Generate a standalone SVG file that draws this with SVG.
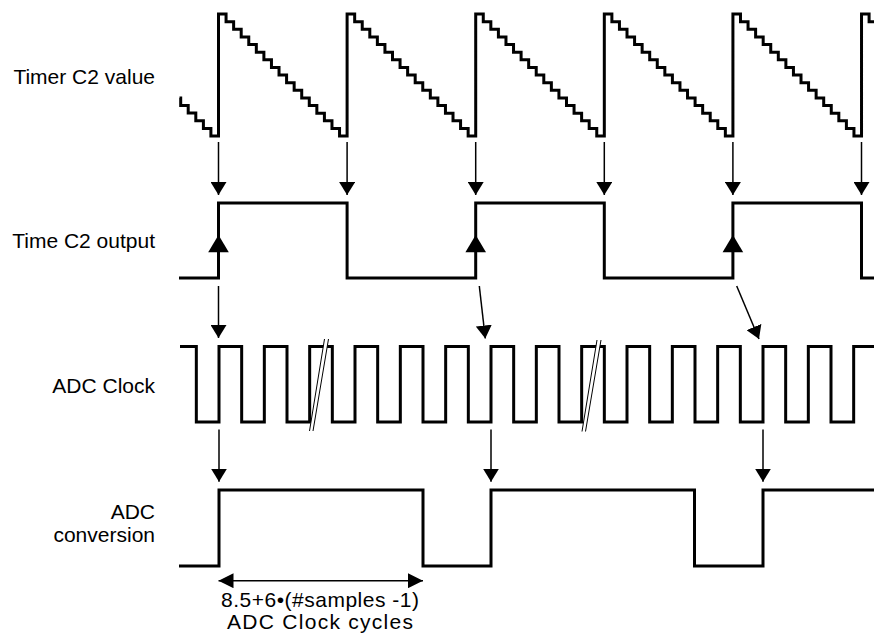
<svg xmlns="http://www.w3.org/2000/svg" width="874" height="634" viewBox="0 0 874 634">
  <style>
    .wave { fill: none; stroke: #000; stroke-width: 3; stroke-linejoin: miter; stroke-linecap: butt; }
    .arrow { fill: none; stroke: #000; stroke-width: 1.5; }
    .label { font-family: "Liberation Sans", Arial, sans-serif; font-size: 21px; fill: #000; }
    .tri { fill: #000; stroke: none; }
    .brk { fill: #fff; stroke: none; }
    .brkline { stroke: #000; stroke-width: 1; fill: none; }
  </style>
  <defs>
    <marker id="ah" viewBox="0 0 13 16" refX="13" refY="8" markerWidth="13" markerHeight="16" markerUnits="userSpaceOnUse" orient="auto">
      <path d="M0,0 L13,8 L0,16 z" fill="#000"/>
    </marker>
    <marker id="dim" viewBox="0 0 15 15" refX="15" refY="7.5" markerWidth="15" markerHeight="15" markerUnits="userSpaceOnUse" orient="auto-start-reverse">
      <path d="M0,0 L15,7.5 L0,15 z" fill="#000"/>
    </marker>
  </defs>
  <rect width="874" height="634" fill="#fff"/>

  <g id="labels">
    <text class="label" x="155" y="84" text-anchor="end">Timer C2 value</text>
    <text class="label" x="155" y="248.3" text-anchor="end">Time C2 output</text>
    <text class="label" x="155" y="393.3" text-anchor="end">ADC Clock</text>
    <text class="label" x="155" y="519.3" text-anchor="end">ADC</text>
    <text class="label" x="155" y="541.7" text-anchor="end">conversion</text>
  </g>

  <g id="timer-value">
    <path class="wave" d="M179.5,97.9 H180.7 V105.5 H188.2 V113.1 H195.8 V120.75 H203.4 V128.4 H210.9 V136 H218.5 V14
      h7.565v7.625h7.565v7.625h7.565v7.625h7.565v7.625h7.565v7.625h7.565v7.625h7.565v7.625h7.565v7.625h7.565v7.625h7.565v7.625h7.565v7.625h7.565v7.625h7.565v7.625h7.565v7.625h7.565v7.625h7.565v7.625h7.565 V14
      h7.565v7.625h7.565v7.625h7.565v7.625h7.565v7.625h7.565v7.625h7.565v7.625h7.565v7.625h7.565v7.625h7.565v7.625h7.565v7.625h7.565v7.625h7.565v7.625h7.565v7.625h7.565v7.625h7.565v7.625h7.565v7.625h7.565 V14
      h7.565v7.625h7.565v7.625h7.565v7.625h7.565v7.625h7.565v7.625h7.565v7.625h7.565v7.625h7.565v7.625h7.565v7.625h7.565v7.625h7.565v7.625h7.565v7.625h7.565v7.625h7.565v7.625h7.565v7.625h7.565v7.625h7.565 V14
      h7.565v7.625h7.565v7.625h7.565v7.625h7.565v7.625h7.565v7.625h7.565v7.625h7.565v7.625h7.565v7.625h7.565v7.625h7.565v7.625h7.565v7.625h7.565v7.625h7.565v7.625h7.565v7.625h7.565v7.625h7.565v7.625h7.565 V14
      h7.565v7.625h7.565v7.625h7.565v7.625h7.565v7.625h7.565v7.625h7.565v7.625h7.565v7.625h7.565v7.625h7.565v7.625h7.565v7.625h7.565v7.625h7.565v7.625h7.565v7.625h7.565v7.625h7.565v7.625h7.565v7.625h7.565 V14
      h7.565v7.625h6"/>
  </g>

  <g id="timer-output">
    <path class="wave" d="M179,278 H218.5 V203 H347.1 V278 H475.7 V203 H604.3 V278 H732.9 V203 H861.5 V278 H876"/>
    <polygon class="tri" points="218.5,235 208.2,252.3 228.8,252.3"/>
    <polygon class="tri" points="475.7,235 465.4,252.3 486,252.3"/>
    <polygon class="tri" points="732.9,235 722.6,252.3 743.2,252.3"/>
  </g>

  <g id="adc-clock">
    <path class="wave" d="M180,346.5 H196.33 V422 H219 V346.5 H241.67 V422 H264.33 V346.5 H287 V422 H309.67 V346.5 H332.33 V422 H355 V346.5 H377.67 V422 H400.33 V346.5 H423 V422 H445.67 V346.5 H468.33 V422 H491 V346.5 H513.67 V422 H536.33 V346.5 H559 V422 H581.67 V346.5 H604.33 V422 H627 V346.5 H649.67 V422 H672.33 V346.5 H695 V422 H717.67 V346.5 H740.33 V422 H763 V346.5 H785.67 V422 H808.33 V346.5 H831 V422 H853.67 V346.5 H876"/>
    <g id="break1">
      <polygon class="brk" points="309.5,431 313,431 328.5,339 324.5,339"/>
      <line class="brkline" x1="309.5" y1="431" x2="324.5" y2="339"/>
      <line class="brkline" x1="313" y1="431" x2="328.5" y2="339"/>
    </g>
    <g id="break2">
      <polygon class="brk" points="582,431.5 585.5,431.5 601,340 597,340"/>
      <line class="brkline" x1="582" y1="431.5" x2="597" y2="340"/>
      <line class="brkline" x1="585.5" y1="431.5" x2="601" y2="340"/>
    </g>
  </g>

  <g id="adc-conversion">
    <path class="wave" d="M179,566 H219 V490 H423 V566 H491 V490 H694.5 V566 H763 V490 H876"/>
  </g>

  <g id="connectors">
    <line class="arrow" x1="218.5" y1="142" x2="218.5" y2="195" marker-end="url(#ah)"/>
    <line class="arrow" x1="347.1" y1="142" x2="347.1" y2="195" marker-end="url(#ah)"/>
    <line class="arrow" x1="475.7" y1="142" x2="475.7" y2="195" marker-end="url(#ah)"/>
    <line class="arrow" x1="604.3" y1="142" x2="604.3" y2="195" marker-end="url(#ah)"/>
    <line class="arrow" x1="732.9" y1="142" x2="732.9" y2="195" marker-end="url(#ah)"/>
    <line class="arrow" x1="861.5" y1="142" x2="861.5" y2="195" marker-end="url(#ah)"/>

    <line class="arrow" x1="218.5" y1="286" x2="218.5" y2="338" marker-end="url(#ah)"/>
    <line class="arrow" x1="479.3" y1="286" x2="485.3" y2="338.5" marker-end="url(#ah)"/>
    <line class="arrow" x1="736.7" y1="286" x2="759" y2="339" marker-end="url(#ah)"/>

    <line class="arrow" x1="219" y1="429.5" x2="219" y2="481.7" marker-end="url(#ah)"/>
    <line class="arrow" x1="491" y1="429.5" x2="491" y2="481.7" marker-end="url(#ah)"/>
    <line class="arrow" x1="763" y1="429.5" x2="763" y2="481.7" marker-end="url(#ah)"/>

    <line class="arrow" x1="218.5" y1="580.7" x2="423" y2="580.7" marker-start="url(#dim)" marker-end="url(#dim)"/>
  </g>

  <g id="dimension-label">
    <text class="label" x="320" y="606.7" text-anchor="middle" textLength="198" lengthAdjust="spacing">8.5+6•(#samples -1)</text>
    <text class="label" x="320" y="629" text-anchor="middle" textLength="186" lengthAdjust="spacing">ADC Clock cycles</text>
  </g>
</svg>
